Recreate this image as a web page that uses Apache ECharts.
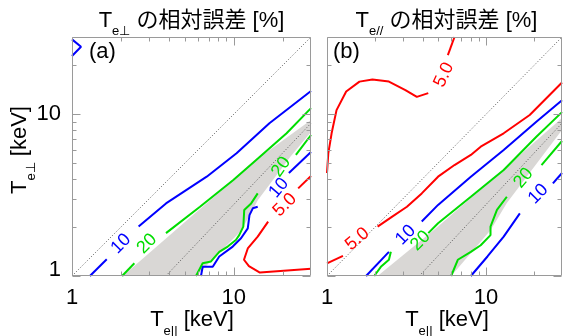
<!DOCTYPE html>
<html><head><meta charset="utf-8">
<script src="https://cdn.jsdelivr.net/npm/echarts@6/dist/echarts.min.js"></script>
<style>html,body{margin:0;padding:0;background:#fff}#c{width:565px;height:336px}</style>
</head><body><div id="c"></div>
<script>
// ---------- data ----------
const xRange = [1, 30];
const yRange = [1, 30];
const majorTicks = [1, 10];
const minorTicks = [2, 3, 4, 5, 6, 7, 8, 9, 20];
const tickLabels = ['1', '10'];
const levelNames = ['5.0', '10', '20'];
const diagonal = [[1, 1], [30, 30]];
const ratioLine = [[3.8, 1], [30, 8.8]];

// panel (a)  T_e⊥ relative error
const a_c5 = [
  [[25.0, 3.48], [30, 4.15]],
  [[16.3, 2.17], [14.05, 1.75], [12.2, 1.48], [11.56, 1.26], [12.4, 1.15], [14.5, 1.05], [30, 1.11]]
];
const a_c10 = [
  [[1, 29.0], [1.137, 26.1], [1, 22.9]],
  [[1.29, 1.0], [1.64, 1.27]],
  [[2.58, 2.02], [3.81, 2.81], [6.80, 4.11], [10.4, 5.73], [16.6, 8.79], [30, 13.9]],
  [[6.27, 1], [6.42, 1.14], [7.41, 1.14], [8.13, 1.32], [9.85, 1.52], [11.08, 1.71], [12.2, 1.97], [12.5, 2.38], [13.1, 2.62], [14.05, 2.68]],
  [[21.9, 4.33], [30, 5.84]]
];
const a_c20 = [
  [[2.04, 1], [2.43, 1.198]],
  [[3.81, 1.84], [6.18, 2.68], [9.93, 3.92], [14.5, 5.46], [21.2, 7.62], [30, 10.9]],
  [[5.84, 1], [6.42, 1.20], [7.23, 1.23], [8.13, 1.41], [9.17, 1.52], [10.3, 1.67], [10.8, 1.79], [11.45, 2.02], [11.6, 2.56], [12.8, 2.81], [14.05, 3.24]],
  [[24.2, 5.60], [30, 7.44]]
];
const a_gray = [[2.06, 1], [5.44, 2.32], [15.1, 5.60], [30, 9.21], [30, 7.76], [22.3, 5.44], [14.1, 2.95], [11.08, 1.90], [5.84, 1]];
const a_lab5 = [[20.7, 2.75]];
const a_lab10 = [[2.01, 1.58], [19.0, 3.50]];
const a_lab20 = [[2.91, 1.58], [19.6, 4.72]];

// panel (b)  T_e// relative error
const b_c5 = [
  [[6.33, 30], [5.75, 23.2]],
  [[4.33, 13.5], [3.67, 12.8], [3.11, 14.1], [2.45, 15.9], [1.93, 16.4], [1.60, 15.9], [1.32, 13.8], [1.148, 10.6], [1.069, 7.62], [1.019, 5.73], [1, 4.33]],
  [[1, 1.198], [1.26, 1.33]],
  [[2.08, 2.02], [2.57, 2.33], [3.18, 2.68], [3.94, 3.24], [4.99, 4.11], [6.33, 4.85], [8.02, 5.60], [9.25, 6.30], [12.9, 7.62], [18.8, 9.89], [30, 15.7]]
];
const b_c10 = [
  [[1.76, 1], [2.45, 1.41]],
  [[3.94, 2.17], [4.99, 2.75], [8.02, 4.11], [12.9, 6.01], [20.7, 8.99], [30, 12.2]],
  [[8.02, 1], [10.2, 1.32], [12.9, 1.75], [16.3, 2.44]],
  [[26.3, 3.74], [30, 4.33]]
];
const b_c20 = [
  [[1.98, 1], [2.18, 1.14], [2.45, 1.26], [2.52, 1.41]],
  [[4.33, 1.84], [4.99, 2.12], [8.02, 3.09], [12.9, 4.52], [20.7, 7.26], [30, 10.3]],
  [[6.03, 1], [6.64, 1.26], [8.02, 1.41], [9.25, 1.55], [10.66, 1.79], [10.66, 2.02], [11.7, 2.56], [13.5, 3.09]],
  [[22.3, 4.85], [30, 6.83]]
];
const b_gray = [[2.08, 1], [4.99, 2.02], [12.8, 4.54], [30, 9.47], [30, 7.99], [13.5, 2.83], [10.66, 1.92], [6.03, 1]];
const b_lab5 = [[5.44, 17.5], [1.55, 1.69]];
const b_lab10 = [[3.12, 1.79], [21.3, 3.21]];
const b_lab20 = [[3.87, 1.65], [17.2, 4.03]];

// ---------- styles ----------
const LATIN = "'Liberation Sans', Arial, Helvetica, sans-serif";
const CJK = "'Liberation Sans', 'Noto Sans CJK JP', sans-serif";
const COLORS = { '5.0': '#ff0000', '10': '#0000ff', '20': '#00dd00' };
const FRAME = '#9a9a9a';
const GRAY = '#d9d7d5';
const panels = [
  { c5: a_c5, c10: a_c10, c20: a_c20, gray: a_gray, lab: { '5.0': a_lab5, '10': a_lab10, '20': a_lab20 },
    rot: { '5.0': [45], '10': [45, 50], '20': [45, 55] } },
  { c5: b_c5, c10: b_c10, c20: b_c20, gray: b_gray, lab: { '5.0': b_lab5, '10': b_lab10, '20': b_lab20 },
    rot: { '5.0': [65, 40], '10': [45, 45], '20': [45, 50] } }
];

function isDecade(v) { const l = Math.log10(v); return Math.abs(l - Math.round(l)) < 1e-6 ? Math.round(l) : -1; }

const grid = [
  { left: 72, top: 37, width: 239, height: 239, containLabel: false },
  { left: 327, top: 37, width: 239, height: 239, containLabel: false }
];
const xAxis = [0, 1].map(i => ({
  gridIndex: i, type: 'log', logBase: 10, min: xRange[0], max: xRange[1],
  axisLine: { show: false }, axisTick: { show: false }, splitLine: { show: false },
  axisLabel: { interval: 0, margin: 11, fontSize: 22, fontFamily: LATIN, color: '#000',
    formatter: v => { const d = isDecade(v); return d >= 0 ? tickLabels[d] : ''; } }
}));
const yAxis = [0, 1].map(i => ({
  gridIndex: i, type: 'log', logBase: 10, min: yRange[0], max: yRange[1],
  axisLine: { show: false }, axisTick: { show: false }, splitLine: { show: false },
  axisLabel: { show: i === 0, interval: 0, margin: 11, fontSize: 22, fontFamily: LATIN, color: '#000',
    formatter: v => { const d = isDecade(v); return d === 0 ? '{one|' + tickLabels[d] + '}' : d > 0 ? tickLabels[d] : ''; },
    rich: { one: { fontSize: 22, fontFamily: LATIN, padding: [0, 0, 12, 0] } } }
}));

const series = [];
panels.forEach((p, i) => {
  // gray region
  series.push({
    type: 'custom', xAxisIndex: i, yAxisIndex: i, silent: true, z: 1, clip: true,
    data: [[p.gray[0][0], p.gray[0][1]]],
    renderItem: (params, api) => ({
      type: 'polygon', shape: { points: p.gray.map(pt => api.coord(pt)) },
      style: { fill: GRAY }
    })
  });
  // dotted reference lines
  [diagonal, ratioLine].forEach(d => series.push({
    type: 'line', xAxisIndex: i, yAxisIndex: i, data: d, symbol: 'none', silent: true, z: 2,
    lineStyle: { color: '#555', width: 1, type: [1, 2] }, clip: true
  }));
  // contours
  [['5.0', p.c5], ['10', p.c10], ['20', p.c20]].forEach(([lv, segs]) => {
    segs.forEach(seg => series.push({
      type: 'line', xAxisIndex: i, yAxisIndex: i, data: seg, symbol: 'none', silent: true, z: 3,
      lineStyle: { color: COLORS[lv], width: 2 }, clip: true
    }));
    // labels
    const pos = p.lab[lv];
    const rots = p.rot[lv];
    series.push({
      type: 'custom', xAxisIndex: i, yAxisIndex: i, silent: true, z: 4, clip: false,
      data: pos,
      renderItem: (params, api) => {
        const c = api.coord([api.value(0), api.value(1)]);
        return {
          type: 'text', x: c[0], y: c[1], rotation: rots[params.dataIndex] * Math.PI / 180,
          style: { text: lv, fill: COLORS[lv], font: '18px ' + LATIN, align: 'center', verticalAlign: 'middle' }
        };
      }
    });
  });
  // frame and ticks
  const ticks = majorTicks.concat(minorTicks).map(v => [v, v]);
  series.push({
    type: 'custom', xAxisIndex: i, yAxisIndex: i, silent: true, z: 10, clip: false,
    data: ticks,
    renderItem: (params, api) => {
      const v = api.value(0);
      const cs = params.coordSys;
      const len = majorTicks.indexOf(v) >= 0 ? 8 : 4;
      const px = Math.round(api.coord([v, yRange[0]])[0]) + 0.5;
      const py = Math.round(api.coord([xRange[0], v])[1]) + 0.5;
      const L = cs.x + 0.5, R = cs.x + cs.width - 0.5, T = cs.y + 0.5, B = cs.y + cs.height - 0.5;
      const st = { stroke: FRAME, lineWidth: 1 };
      const ch = [
        { type: 'line', shape: { x1: px, y1: B, x2: px, y2: B - len }, style: st },
        { type: 'line', shape: { x1: px, y1: T, x2: px, y2: T + len }, style: st },
        { type: 'line', shape: { x1: L, y1: py, x2: L + len, y2: py }, style: st },
        { type: 'line', shape: { x1: R, y1: py, x2: R - len, y2: py }, style: st }
      ];
      if (params.dataIndex === 0) {
        ch.push({ type: 'rect', shape: { x: L, y: T, width: R - L, height: B - T }, style: { fill: null, stroke: FRAME, lineWidth: 1 } });
      }
      return { type: 'group', children: ch };
    }
  });
});

function subText(main, sub, rest, fam) {
  return {
    text: '{t|' + main + '}{s|' + sub + '}{t|' + rest + '}',
    rich: {
      t: { fontSize: 22, lineHeight: 35, fontFamily: fam, fill: '#000' },
      s: { fontSize: 13, lineHeight: 14, fontFamily: LATIN, verticalAlign: 'bottom', fill: '#000' }
    }
  };
}

const graphic = [
  { type: 'text', x: 191.5, y: 3, silent: true, style: Object.assign(subText('T', 'e⊥', ' の相対誤差 [%]', CJK), { align: 'center', verticalAlign: 'top' }) },
  { type: 'text', x: 446.5, y: 3, silent: true, style: Object.assign(subText('T', 'e//', ' の相対誤差 [%]', CJK), { align: 'center', verticalAlign: 'top' }) },
  { type: 'text', x: 192, y: 302.5, silent: true, style: Object.assign(subText('T', 'e||', ' [keV]', LATIN), { align: 'center', verticalAlign: 'top' }) },
  { type: 'text', x: 447, y: 302.5, silent: true, style: Object.assign(subText('T', 'e||', ' [keV]', LATIN), { align: 'center', verticalAlign: 'top' }) },
  { type: 'text', x: 20, y: 150, rotation: Math.PI / 2, silent: true, style: Object.assign(subText('T', 'e⊥', ' [keV]', LATIN), { align: 'center', verticalAlign: 'middle' }) },
  { type: 'text', x: 89, y: 52, silent: true, style: { text: '(a)', font: '22px ' + LATIN, fill: '#000', align: 'left', verticalAlign: 'middle' } },
  { type: 'text', x: 333, y: 52, silent: true, style: { text: '(b)', font: '22px ' + LATIN, fill: '#000', align: 'left', verticalAlign: 'middle' } }
];

const chart = echarts.init(document.getElementById('c'), null, { renderer: 'canvas' });
chart.setOption({
  animation: false,
  backgroundColor: '#fff',
  grid, xAxis, yAxis, series, graphic
});
</script></body></html>
